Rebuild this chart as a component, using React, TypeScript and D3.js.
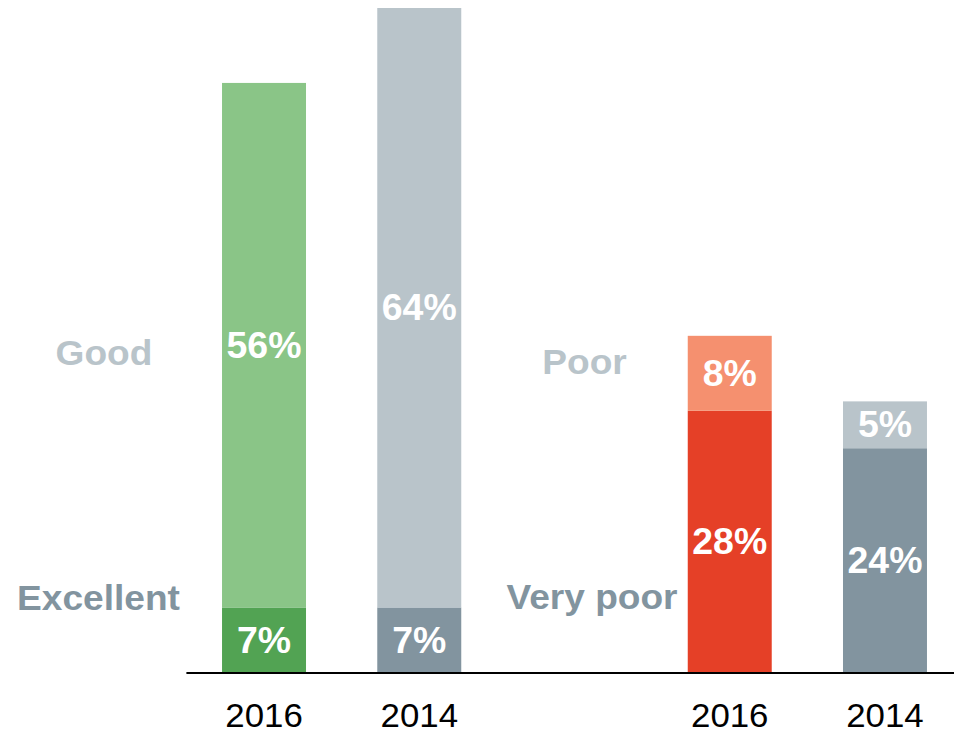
import React from "react";
import * as d3 from "d3";

const slots = ["good2016", "good2014", "gap", "poor2016", "poor2014"];
const yearLabels = ["2016", "2014", "", "2016", "2014"];
const bottomValues = [7, 7, 0, 28, 24];
const topValues = [56, 64, 0, 8, 5];
const bottomColors = ["#52A353", "#82949F", "none", "#E54027", "#82949F"];
const topColors = ["#8AC587", "#B9C4CA", "none", "#F5906F", "#B9C4CA"];

const categoryLabels = ["Good", "Excellent", "Poor", "Very poor"];
const categoryColors = ["#B9C4CA", "#82949F", "#B9C4CA", "#82949F"];

const W = 954;
const H = 735;
const FONT = "'Liberation Sans', Arial, Helvetica, sans-serif";

function SText(props: {
  x: number;
  y: number;
  sx: number;
  children: React.ReactNode;
  [k: string]: any;
}) {
  const { x, y, sx, children, ...rest } = props;
  return (
    <text transform={`translate(${x},${y}) scale(${sx},1)`} textAnchor="middle" {...rest}>
      {children}
    </text>
  );
}

export default function App() {
  const x = d3
    .scaleBand<string>()
    .domain(slots)
    .range([186.4, 962.6])
    .paddingInner(0.459)
    .paddingOuter(0.2295);
  const y = d3.scaleLinear().domain([0, 71]).range([673, 8]);
  const bw = x.bandwidth();

  const catPos = [
    { cx: 104, v: 34.2 },
    { cx: 98.5, v: 8.06 },
    { cx: 584.5, v: 33.2 },
    { cx: 592, v: 8.1 },
  ];

  return (
    <svg
      width={W}
      height={H}
      style={{ position: "absolute", left: 0, top: 0, background: "#fff" }}
      fontFamily={FONT}
    >
      {slots.map((s, i) => {
        if (bottomValues[i] === 0 && topValues[i] === 0) return null;
        const x0 = x(s) as number;
        const b = bottomValues[i];
        const t = topValues[i];
        return (
          <g key={s}>
            <rect x={x0} y={y(b)} width={bw} height={y(0) - y(b)} fill={bottomColors[i]} />
            <rect x={x0} y={y(b + t)} width={bw} height={y(b) - y(b + t)} fill={topColors[i]} />
            <SText
              x={x0 + bw / 2}
              y={(y(0) + y(b)) / 2}
              sx={1.04}
              dy="0.35em"
              fill="#fff"
              fontWeight="bold"
              fontSize={36}
            >
              {b}%
            </SText>
            <SText
              x={x0 + bw / 2}
              y={(y(b) + y(b + t)) / 2}
              sx={1.04}
              dy="0.35em"
              fill="#fff"
              fontWeight="bold"
              fontSize={36}
            >
              {t}%
            </SText>
          </g>
        );
      })}
      <line x1={186.4} x2={W} y1={y(0)} y2={y(0)} stroke="#000" strokeWidth={2} />
      {slots.map((s, i) =>
        yearLabels[i] ? (
          <SText
            key={"yl" + s}
            x={(x(s) as number) + bw / 2}
            y={y(0) + 54}
            sx={1.04}
            fill="#000"
            fontSize={33.5}
          >
            {yearLabels[i]}
          </SText>
        ) : null
      )}
      {categoryLabels.map((c, i) => (
        <SText
          key={c}
          x={catPos[i].cx}
          y={y(catPos[i].v)}
          sx={1.06}
          dy="0.35em"
          fill={categoryColors[i]}
          fontWeight="bold"
          fontSize={35}
        >
          {c}
        </SText>
      ))}
    </svg>
  );
}
